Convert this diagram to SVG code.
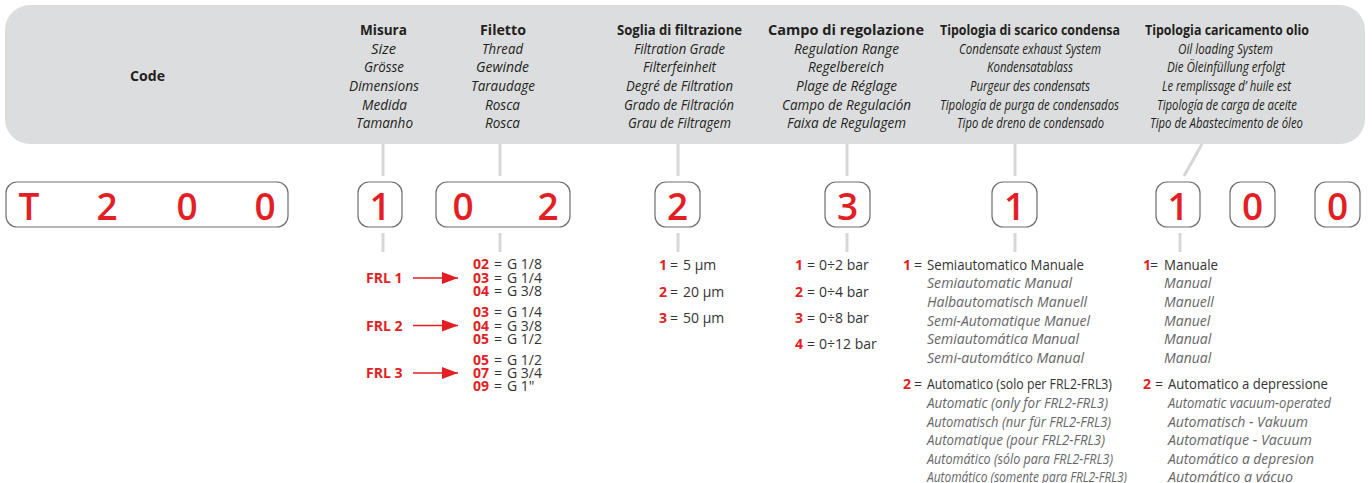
<svg xmlns="http://www.w3.org/2000/svg" width="1372" height="483" viewBox="0 0 1372 483">
<defs>
<style>
text{font-family:"Open Sans","Liberation Sans",sans-serif;}
.h{font-size:15px;font-weight:700;fill:#231f20;}
.hi{font-size:14px;font-style:italic;fill:#231f20;}
.d{font-size:37px;font-weight:600;fill:#e31e24;text-anchor:middle;}
.box{fill:#fff;stroke:#6d6e71;stroke-width:1.2;}
.con{stroke:#d6d7d9;stroke-width:3;fill:none;}
.t{font-size:14px;fill:#333335;}
.r{font-weight:700;fill:#e31e24;}
.li{font-size:14px;font-style:italic;font-weight:400;fill:#666668;}
.frl{font-size:14px;font-weight:700;fill:#e31e24;}
.arr{stroke:#e31e24;stroke-width:1.5;fill:none;}
</style>
<marker id="ah" markerUnits="userSpaceOnUse" markerWidth="16" markerHeight="12" refX="16" refY="6" orient="auto">
<path d="M0,0 L16,6 L0,12 Z" fill="#e31e24"/>
</marker>
</defs>
<rect x="0" y="0" width="1372" height="483" fill="#fff"/>

<g id="header">
<rect x="5" y="5" width="1360" height="139" rx="25" ry="25" fill="#dcddde"/>
<text class="h" x="130" y="81" textLength="35" lengthAdjust="spacingAndGlyphs">Code</text>
</g>

<g id="col-misura">
<text class="h" x="360" y="35" textLength="47" lengthAdjust="spacingAndGlyphs">Misura</text>
<text class="hi" x="371" y="53.5" textLength="25" lengthAdjust="spacingAndGlyphs">Size</text>
<text class="hi" x="364" y="72" textLength="40" lengthAdjust="spacingAndGlyphs">Grösse</text>
<text class="hi" x="349" y="90.5" textLength="70" lengthAdjust="spacingAndGlyphs">Dimensions</text>
<text class="hi" x="362" y="109.5" textLength="45" lengthAdjust="spacingAndGlyphs">Medida</text>
<text class="hi" x="356" y="128" textLength="57" lengthAdjust="spacingAndGlyphs">Tamanho</text>
</g>

<g id="col-filetto">
<text class="h" x="480" y="35" textLength="46" lengthAdjust="spacingAndGlyphs">Filetto</text>
<text class="hi" x="482" y="53.5" textLength="41" lengthAdjust="spacingAndGlyphs">Thread</text>
<text class="hi" x="476" y="72" textLength="53" lengthAdjust="spacingAndGlyphs">Gewinde</text>
<text class="hi" x="471" y="90.5" textLength="64" lengthAdjust="spacingAndGlyphs">Taraudage</text>
<text class="hi" x="485" y="109.5" textLength="35" lengthAdjust="spacingAndGlyphs">Rosca</text>
<text class="hi" x="485" y="128" textLength="35" lengthAdjust="spacingAndGlyphs">Rosca</text>
</g>

<g id="col-soglia">
<text class="h" x="617" y="35" textLength="125" lengthAdjust="spacingAndGlyphs">Soglia di filtrazione</text>
<text class="hi" x="634" y="53.5" textLength="91" lengthAdjust="spacingAndGlyphs">Filtration Grade</text>
<text class="hi" x="643" y="72" textLength="73" lengthAdjust="spacingAndGlyphs">Filterfeinheit</text>
<text class="hi" x="626" y="90.5" textLength="107" lengthAdjust="spacingAndGlyphs">Degré de Filtration</text>
<text class="hi" x="624" y="109.5" textLength="110" lengthAdjust="spacingAndGlyphs">Grado de Filtración</text>
<text class="hi" x="628" y="128" textLength="103" lengthAdjust="spacingAndGlyphs">Grau de Filtragem</text>
</g>

<g id="col-campo">
<text class="h" x="768" y="35" textLength="156" lengthAdjust="spacingAndGlyphs">Campo di regolazione</text>
<text class="hi" x="794" y="53.5" textLength="105" lengthAdjust="spacingAndGlyphs">Regulation Range</text>
<text class="hi" x="808" y="72" textLength="76" lengthAdjust="spacingAndGlyphs">Regelbereich</text>
<text class="hi" x="796" y="90.5" textLength="101" lengthAdjust="spacingAndGlyphs">Plage de Réglage</text>
<text class="hi" x="782" y="109.5" textLength="129" lengthAdjust="spacingAndGlyphs">Campo de Regulación</text>
<text class="hi" x="787" y="128" textLength="119" lengthAdjust="spacingAndGlyphs">Faixa de Regulagem</text>
</g>

<g id="col-scarico">
<text class="h" x="940" y="35" textLength="180" lengthAdjust="spacingAndGlyphs">Tipologia di scarico condensa</text>
<text class="hi" x="959" y="53.5" textLength="142" lengthAdjust="spacingAndGlyphs">Condensate exhaust System</text>
<text class="hi" x="987" y="72" textLength="86" lengthAdjust="spacingAndGlyphs">Kondensatablass</text>
<text class="hi" x="970" y="90.5" textLength="120" lengthAdjust="spacingAndGlyphs">Purgeur des condensats</text>
<text class="hi" x="940" y="109.5" textLength="179" lengthAdjust="spacingAndGlyphs">Tipología de purga de condensados</text>
<text class="hi" x="957" y="128" textLength="147" lengthAdjust="spacingAndGlyphs">Tipo de dreno de condensado</text>
</g>

<g id="col-olio">
<text class="h" x="1145" y="35" textLength="164" lengthAdjust="spacingAndGlyphs">Tipologia caricamento olio</text>
<text class="hi" x="1178" y="53.5" textLength="95" lengthAdjust="spacingAndGlyphs">Oil loading System</text>
<text class="hi" x="1167" y="72" textLength="118" lengthAdjust="spacingAndGlyphs">Die Öleinfüllung erfolgt</text>
<text class="hi" x="1162" y="90.5" textLength="129" lengthAdjust="spacingAndGlyphs">Le remplissage d’ huile est</text>
<text class="hi" x="1157" y="109.5" textLength="140" lengthAdjust="spacingAndGlyphs">Tipología de carga de aceite</text>
<text class="hi" x="1150" y="128" textLength="153" lengthAdjust="spacingAndGlyphs">Tipo de Abastecimento de óleo</text>
</g>

<g id="connectors">
<line class="con" x1="383" y1="144" x2="383" y2="176"/>
<line class="con" x1="500" y1="144" x2="500" y2="176"/>
<line class="con" x1="678" y1="144" x2="678" y2="176"/>
<line class="con" x1="847" y1="144" x2="847" y2="176"/>
<line class="con" x1="1015" y1="144" x2="1015" y2="176"/>
<line class="con" x1="1202" y1="144" x2="1184" y2="176"/>
<line class="con" x1="383" y1="233" x2="383" y2="252"/>
<line class="con" x1="500" y1="233" x2="500" y2="252"/>
<line class="con" x1="678" y1="233" x2="678" y2="252"/>
<line class="con" x1="847" y1="233" x2="847" y2="252"/>
<line class="con" x1="1015" y1="233" x2="1015" y2="252"/>
<line class="con" x1="1180" y1="233" x2="1180" y2="252"/>
<line class="arr" x1="413" y1="278" x2="458" y2="278" marker-end="url(#ah)"/>
<line class="arr" x1="413" y1="325.5" x2="458" y2="325.5" marker-end="url(#ah)"/>
<line class="arr" x1="413" y1="373" x2="458" y2="373" marker-end="url(#ah)"/>
</g>

<g id="code-T200">
<rect class="box" x="6" y="182" width="282" height="45" rx="11"/>
<text class="d" x="29" y="220">T</text>
<text class="d" x="107" y="220">2</text>
<text class="d" x="187" y="220">0</text>
<text class="d" x="265" y="220">0</text>
</g>
<g id="code-misura">
<rect class="box" x="358" y="182" width="44" height="45" rx="11"/>
<text class="d" x="380" y="220">1</text>
</g>
<g id="code-filetto">
<rect class="box" x="436" y="182" width="134" height="45" rx="11"/>
<text class="d" x="463" y="220">0</text>
<text class="d" x="548" y="220">2</text>
</g>
<g id="code-soglia">
<rect class="box" x="655" y="182" width="45" height="45" rx="11"/>
<text class="d" x="677.5" y="220">2</text>
</g>
<g id="code-campo">
<rect class="box" x="825" y="182" width="45" height="45" rx="11"/>
<text class="d" x="847.5" y="220">3</text>
</g>
<g id="code-scarico">
<rect class="box" x="992" y="182" width="45" height="45" rx="11"/>
<text class="d" x="1014.5" y="220">1</text>
</g>
<g id="code-olio">
<rect class="box" x="1156" y="182" width="44" height="45" rx="11"/>
<text class="d" x="1178" y="220">1</text>
</g>
<g id="code-0a">
<rect class="box" x="1230" y="182" width="45" height="45" rx="11"/>
<text class="d" x="1252.5" y="220">0</text>
</g>
<g id="code-0b">
<rect class="box" x="1315" y="182" width="45" height="45" rx="11"/>
<text class="d" x="1337.5" y="220">0</text>
</g>

<g id="frl-labels">
<text class="frl" x="366" y="283">FRL 1</text>
<text class="frl" x="366" y="330.5">FRL 2</text>
<text class="frl" x="366" y="378">FRL 3</text>
</g>

<g id="thread-list">
<text class="t" y="269"><tspan x="473" class="r">02</tspan><tspan x="494">=</tspan><tspan x="507">G 1/8</tspan></text>
<text class="t" y="282.5"><tspan x="473" class="r">03</tspan><tspan x="494">=</tspan><tspan x="507">G 1/4</tspan></text>
<text class="t" y="296"><tspan x="473" class="r">04</tspan><tspan x="494">=</tspan><tspan x="507">G 3/8</tspan></text>
<text class="t" y="316.5"><tspan x="473" class="r">03</tspan><tspan x="494">=</tspan><tspan x="507">G 1/4</tspan></text>
<text class="t" y="330.5"><tspan x="473" class="r">04</tspan><tspan x="494">=</tspan><tspan x="507">G 3/8</tspan></text>
<text class="t" y="344"><tspan x="473" class="r">05</tspan><tspan x="494">=</tspan><tspan x="507">G 1/2</tspan></text>
<text class="t" y="364.5"><tspan x="473" class="r">05</tspan><tspan x="494">=</tspan><tspan x="507">G 1/2</tspan></text>
<text class="t" y="377.5"><tspan x="473" class="r">07</tspan><tspan x="494">=</tspan><tspan x="507">G 3/4</tspan></text>
<text class="t" y="391"><tspan x="473" class="r">09</tspan><tspan x="494">=</tspan><tspan x="507">G 1"</tspan></text>
</g>

<g id="filtration-list">
<text class="t" y="270"><tspan x="659" class="r">1</tspan><tspan x="670">=</tspan><tspan x="683">5 µm</tspan></text>
<text class="t" y="296.5"><tspan x="659" class="r">2</tspan><tspan x="670">=</tspan><tspan x="683">20 µm</tspan></text>
<text class="t" y="322.5"><tspan x="659" class="r">3</tspan><tspan x="670">=</tspan><tspan x="683">50 µm</tspan></text>
</g>

<g id="range-list">
<text class="t" y="270"><tspan x="795" class="r">1</tspan><tspan x="807">=</tspan><tspan x="819">0÷2 bar</tspan></text>
<text class="t" y="296.5"><tspan x="795" class="r">2</tspan><tspan x="807">=</tspan><tspan x="819">0÷4 bar</tspan></text>
<text class="t" y="322.5"><tspan x="795" class="r">3</tspan><tspan x="807">=</tspan><tspan x="819">0÷8 bar</tspan></text>
<text class="t" y="348.5"><tspan x="795" class="r">4</tspan><tspan x="807">=</tspan><tspan x="819">0÷12 bar</tspan></text>
</g>

<g id="condensate-list">
<text class="t" y="270"><tspan x="903" class="r">1</tspan><tspan x="914">=</tspan></text>
<text class="t" x="927" y="270" textLength="157" lengthAdjust="spacingAndGlyphs">Semiautomatico Manuale</text>
<text class="li" x="927" y="288" textLength="145" lengthAdjust="spacingAndGlyphs">Semiautomatic Manual</text>
<text class="li" x="927" y="306.7" textLength="160" lengthAdjust="spacingAndGlyphs">Halbautomatisch Manuell</text>
<text class="li" x="927" y="325.5" textLength="163" lengthAdjust="spacingAndGlyphs">Semi-Automatique Manuel</text>
<text class="li" x="927" y="344" textLength="152" lengthAdjust="spacingAndGlyphs">Semiautomática Manual</text>
<text class="li" x="927" y="362.7" textLength="157" lengthAdjust="spacingAndGlyphs">Semi-automático Manual</text>
<text class="t" y="389.3"><tspan x="903" class="r">2</tspan><tspan x="914">=</tspan></text>
<text class="t" x="927" y="389.3" textLength="185" lengthAdjust="spacingAndGlyphs">Automatico (solo per FRL2-FRL3)</text>
<text class="li" x="927" y="408.3" textLength="181" lengthAdjust="spacingAndGlyphs">Automatic (only for FRL2-FRL3)</text>
<text class="li" x="927" y="426.7" textLength="184" lengthAdjust="spacingAndGlyphs">Automatisch (nur für FRL2-FRL3)</text>
<text class="li" x="927" y="445" textLength="178" lengthAdjust="spacingAndGlyphs">Automatique (pour FRL2-FRL3)</text>
<text class="li" x="927" y="464" textLength="186" lengthAdjust="spacingAndGlyphs">Automático (sólo para FRL2-FRL3)</text>
<text class="li" x="927" y="481.5" textLength="200" lengthAdjust="spacingAndGlyphs">Automático (somente para FRL2-FRL3)</text>
</g>

<g id="oil-list">
<text class="t" y="270"><tspan x="1143" class="r">1</tspan><tspan x="1150">=</tspan></text>
<text class="t" x="1164" y="270" textLength="54" lengthAdjust="spacingAndGlyphs">Manuale</text>
<text class="li" x="1164" y="288">Manual</text>
<text class="li" x="1164" y="306.7">Manuell</text>
<text class="li" x="1164" y="325.5">Manuel</text>
<text class="li" x="1164" y="344">Manual</text>
<text class="li" x="1164" y="362.7">Manual</text>
<text class="t" y="389.3"><tspan x="1143" class="r">2</tspan><tspan x="1155">=</tspan></text>
<text class="t" x="1168" y="389.3" textLength="160" lengthAdjust="spacingAndGlyphs">Automatico a depressione</text>
<text class="li" x="1168" y="408.3" textLength="163" lengthAdjust="spacingAndGlyphs">Automatic vacuum-operated</text>
<text class="li" x="1168" y="426.7" textLength="140" lengthAdjust="spacingAndGlyphs">Automatisch - Vakuum</text>
<text class="li" x="1168" y="445" textLength="144" lengthAdjust="spacingAndGlyphs">Automatique - Vacuum</text>
<text class="li" x="1168" y="464" textLength="146" lengthAdjust="spacingAndGlyphs">Automático a depresion</text>
<text class="li" x="1168" y="481.5" textLength="125" lengthAdjust="spacingAndGlyphs">Automático a vácuo</text>
</g>
</svg>
